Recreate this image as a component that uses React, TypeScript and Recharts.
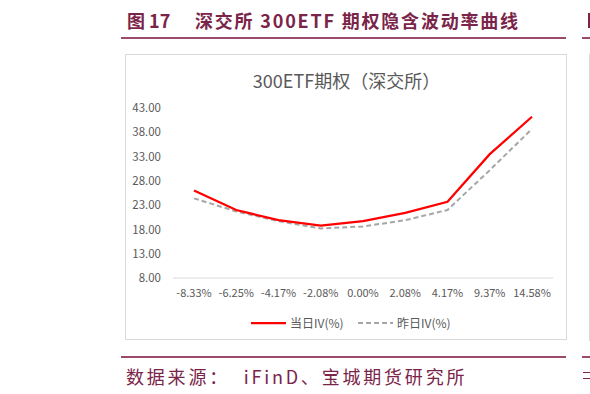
import React from 'react';
import { LineChart, Line, XAxis, YAxis } from 'recharts';

const categories = ['-8.33%', '-6.25%', '-4.17%', '-2.08%', '0.00%', '2.08%', '4.17%', '9.37%', '14.58%'];
const todayIV = [26.0, 22.0, 19.9, 18.8, 19.7, 21.4, 23.7, 33.5, 41.2];
const yesterdayIV = [24.4, 21.7, 19.7, 18.2, 18.6, 19.9, 22.0, 30.2, 38.7];
const yTicks = [8, 13, 18, 23, 28, 33, 38, 43];

const seriesNames = ['当日IV(%)', '昨日IV(%)'];
const pageTitleNum = '图 17';
const pageTitle = '深交所 300ETF 期权隐含波动率曲线';
const chartTitle = '300ETF期权（深交所）';
const sourceText = '数据来源：  iFinD、宝城期货研究所';

const data = categories.map((c, i) => ({ cat: c, today: todayIV[i], yesterday: yesterdayIV[i] }));

const MAROON = '#7b2449';
const RULE = '#9a4a6a';
const AXIS_TEXT = '#595959';
const CJK = '"Noto Sans CJK SC", "Noto Sans", sans-serif';

export default function App() {
  return (
    <div style={{ position: 'absolute', left: 0, top: 0, width: 590, height: 394, background: '#fff', overflow: 'hidden', fontFamily: CJK }}>
      {/* page title */}
      <div style={{ position: 'absolute', left: 127, top: 8, fontSize: 18, fontWeight: 700, color: MAROON, lineHeight: '24px', whiteSpace: 'pre' }}>{pageTitleNum}</div>
      <div style={{ position: 'absolute', left: 195, top: 8, fontSize: 18, fontWeight: 700, color: MAROON, lineHeight: '24px', letterSpacing: 1.8, whiteSpace: 'nowrap' }}>{pageTitle}</div>
      <div style={{ position: 'absolute', left: 121, top: 37, width: 445, height: 2, background: RULE }} />
      <div style={{ position: 'absolute', left: 582, top: 37, width: 10, height: 2, background: RULE }} />
      <div style={{ position: 'absolute', left: 588, top: 13, width: 3, height: 15, background: MAROON }} />

      {/* chart box */}
      <div style={{ position: 'absolute', left: 125, top: 54, width: 442, height: 286, border: '1px solid #d9d9d9', boxSizing: 'border-box' }} />
      <div style={{ position: 'absolute', left: 589, top: 54, width: 1, height: 287, background: '#d9d9d9' }} />
      <div style={{ position: 'absolute', left: 125, width: 443, top: 68, textAlign: 'center', fontSize: 18, color: AXIS_TEXT, lineHeight: '24px', whiteSpace: 'nowrap' }}>{chartTitle}</div>

      <LineChart
        width={590}
        height={394}
        data={data}
        margin={{ top: 108, right: 37, bottom: 86, left: 133 }}
        style={{ position: 'absolute', left: 0, top: 0 }}
      >
        <XAxis
          dataKey="cat"
          axisLine={{ stroke: '#d9d9d9', strokeWidth: 1 }}
          tickLine={false}
          tickSize={0}
          tickMargin={11}
          interval={0}
          padding={{ left: 21, right: 21 }}
          tick={{ fill: AXIS_TEXT, fontSize: 11, fontFamily: CJK }}
        />
        <YAxis
          domain={[8, 43]}
          ticks={yTicks}
          interval={0}
          width={40}
          axisLine={false}
          tickLine={false}
          tickSize={0}
          tickMargin={12}
          tickFormatter={(v: number) => v.toFixed(2)}
          tick={{ fill: AXIS_TEXT, fontSize: 11.5, fontFamily: CJK }}
        />
        <Line dataKey="yesterday" name={seriesNames[1]} stroke="#a6a6a6" strokeWidth={2} strokeDasharray="5 3" dot={false} activeDot={false} type="linear" isAnimationActive={false} />
        <Line dataKey="today" name={seriesNames[0]} stroke="#ff0000" strokeWidth={2.25} dot={false} activeDot={false} type="linear" isAnimationActive={false} />
      </LineChart>

      {/* legend */}
      <svg style={{ position: 'absolute', left: 0, top: 314 }} width={590} height={18}>
        <line x1={251} x2={286} y1={9} y2={9} stroke="#ff0000" strokeWidth={2.25} />
        <line x1={358} x2={393} y1={9} y2={9} stroke="#a6a6a6" strokeWidth={2} strokeDasharray="5 3" />
      </svg>
      <div style={{ position: 'absolute', left: 290, top: 314, fontSize: 12, color: AXIS_TEXT, lineHeight: '18px', whiteSpace: 'nowrap' }}>{seriesNames[0]}</div>
      <div style={{ position: 'absolute', left: 397, top: 314, fontSize: 12, color: AXIS_TEXT, lineHeight: '18px', whiteSpace: 'nowrap' }}>{seriesNames[1]}</div>

      {/* source */}
      <div style={{ position: 'absolute', left: 121, top: 356, width: 445, height: 2, background: RULE }} />
      <div style={{ position: 'absolute', left: 582, top: 356, width: 10, height: 2, background: RULE }} />
      <div style={{ position: 'absolute', left: 126, top: 364, fontSize: 18, color: MAROON, lineHeight: '24px', letterSpacing: 2.8, whiteSpace: 'pre' }}>{sourceText}</div>
      <div style={{ position: 'absolute', left: 583, top: 372, width: 7, height: 1, background: MAROON }} />
      <div style={{ position: 'absolute', left: 583, top: 378, width: 7, height: 1, background: MAROON }} />
    </div>
  );
}
